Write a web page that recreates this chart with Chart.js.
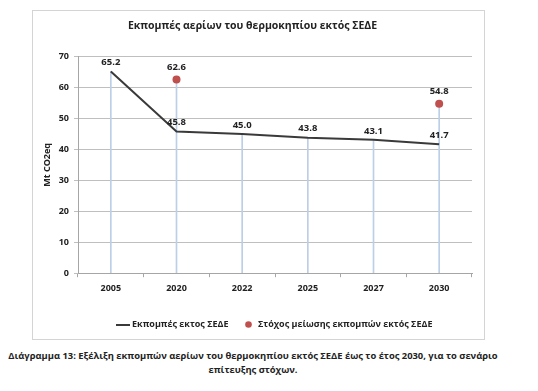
<!DOCTYPE html>
<html>
<head>
<meta charset="utf-8">
<script src="https://cdn.jsdelivr.net/npm/chart.js@4.4.0/dist/chart.umd.min.js"></script>
<style>
  html, body { margin: 0; padding: 0; background: #fff; width: 538px; height: 391px; overflow: hidden; }
  #frame { position: absolute; left: 32px; top: 10px; width: 451px; height: 328px; border: 1px solid #d4d4d4; }
  #wrap { position: relative; width: 451px; height: 328px; }
  #caption { position: absolute; left: 0; top: 349px; width: 506px; text-align: center;
             font-family: "Open Sans", sans-serif; font-weight: bold; font-size: 9.4px; line-height: 14px; color: #222; }
</style>
</head>
<body>
<div id="frame"><div id="wrap"><canvas id="c"></canvas></div></div>
<div id="caption">Διάγραμμα 13: Εξέλιξη εκπομπών αερίων του θερμοκηπίου εκτός ΣΕΔΕ έως το έτος 2030, για το σενάριο<br>επίτευξης στόχων.</div>
<script>
const categories = ["2005", "2020", "2022", "2025", "2027", "2030"];
const emissions = [65.2, 45.8, 45.0, 43.8, 43.1, 41.7];
const targets = [null, 62.6, null, null, null, 54.8];
const yTicks = [0, 10, 20, 30, 40, 50, 60, 70];
const chartTitle = "Εκπομπές αερίων του θερμοκηπίου εκτός ΣΕΔΕ";
const yTitle = "Mt CO2eq";
const seriesNames = ["Εκπομπές εκτος ΣΕΔΕ", "Στόχος μείωσης εκπομπών εκτός ΣΕΔΕ"];

const dropValues = categories.map((c, i) => Math.max(emissions[i], targets[i] == null ? -Infinity : targets[i]));

const FONT = '"Open Sans", sans-serif';
const LINE_COLOR = '#3a3a3a';
const DOT_COLOR = '#c0504d';

function makeLineIcon() {
  const cv = document.createElement('canvas');
  cv.width = 14; cv.height = 2;
  const g = cv.getContext('2d');
  g.fillStyle = LINE_COLOR; g.fillRect(0, 0, 14, 2);
  return cv;
}
function makeDotIcon() {
  const cv = document.createElement('canvas');
  cv.width = 7; cv.height = 7;
  const g = cv.getContext('2d');
  g.fillStyle = DOT_COLOR; g.beginPath(); g.arc(3.5, 3.5, 3.3, 0, Math.PI * 2); g.fill();
  return cv;
}
const lineIcon = makeLineIcon();
const dotIcon = makeDotIcon();

const labelPlugin = {
  id: 'valueLabels',
  afterDatasetsDraw(chart) {
    const ctx = chart.ctx;
    ctx.save();
    ctx.font = 'bold 9.5px ' + FONT;
    ctx.fillStyle = '#222';
    ctx.textAlign = 'center';
    ctx.textBaseline = 'middle';
    [1, 2].forEach(di => {
      const ds = chart.data.datasets[di];
      const meta = chart.getDatasetMeta(di);
      meta.data.forEach((el, i) => {
        const v = ds.data[i];
        if (v == null) return;
        const off = di === 1 ? 9 : 12;
        ctx.fillText(v.toFixed(1), el.x, el.y - off);
      });
    });
    ctx.restore();
  }
};

new Chart(document.getElementById('c'), {
  data: {
    labels: categories,
    datasets: [
      { type: 'bar', label: 'drop', data: dropValues, backgroundColor: '#bccfe6', barThickness: 1, order: 3 },
      { type: 'line', label: seriesNames[0], data: emissions, borderColor: LINE_COLOR, backgroundColor: LINE_COLOR,
        borderWidth: 2, pointRadius: 0, tension: 0, order: 2 },
      { type: 'line', label: seriesNames[1], data: targets, showLine: false, pointRadius: 4, pointHoverRadius: 4,
        backgroundColor: DOT_COLOR, borderColor: DOT_COLOR, borderWidth: 0, pointStyle: 'circle', order: 1 }
    ]
  },
  options: {
    responsive: true,
    maintainAspectRatio: false,
    animation: false,
    layout: { padding: { left: 0, right: 12, top: 0, bottom: 0 } },
    plugins: {
      title: { display: true, text: chartTitle, font: { family: FONT, size: 10.5, weight: 'bold' }, color: '#222',
               padding: { top: 9, bottom: 24 } },
      legend: {
        position: 'bottom',
        fullSize: false,
        labels: {
          filter: (item) => item.datasetIndex !== 0,
          sort: (a, b) => a.datasetIndex - b.datasetIndex,
          usePointStyle: true,
          boxWidth: 8, boxHeight: 8, pointStyleWidth: 10,
          font: { family: FONT, size: 9, weight: 'bold' }, color: '#222',
          padding: 15,
          generateLabels(chart) {
            const items = Chart.defaults.plugins.legend.labels.generateLabels(chart);
            items.forEach(it => {
              if (it.datasetIndex === 1) { it.pointStyle = lineIcon; }
              if (it.datasetIndex === 2) { it.pointStyle = dotIcon; }
            });
            return items;
          }
        }
      },
      tooltip: { enabled: false }
    },
    scales: {
      x: {
        offset: true,
        afterFit: (s) => { s.height += 5; },
        grid: { display: true, drawOnChartArea: false, drawTicks: true, tickLength: 4, color: '#a6a6a6', offset: true },
        border: { display: true, color: '#a6a6a6' },
        ticks: { font: { family: FONT, size: 9, weight: 'bold' }, color: '#222', padding: 6 }
      },
      y: {
        min: 0, max: 70,
        afterBuildTicks: (s) => { s.ticks = yTicks.map(v => ({ value: v })); },
        afterFit: (s) => { s.width = 45; },
        grid: { color: '#bfbfbf', lineWidth: 1, drawTicks: true, tickLength: 4 },
        border: { display: true, color: '#a6a6a6' },
        ticks: { font: { family: FONT, size: 9, weight: 'bold' }, color: '#222', padding: 5 },
        title: { display: true, text: yTitle, font: { family: FONT, size: 9, weight: 'bold' }, color: '#222', padding: { top: 9 } }
      }
    }
  },
  plugins: [labelPlugin]
});
</script>
</body>
</html>
